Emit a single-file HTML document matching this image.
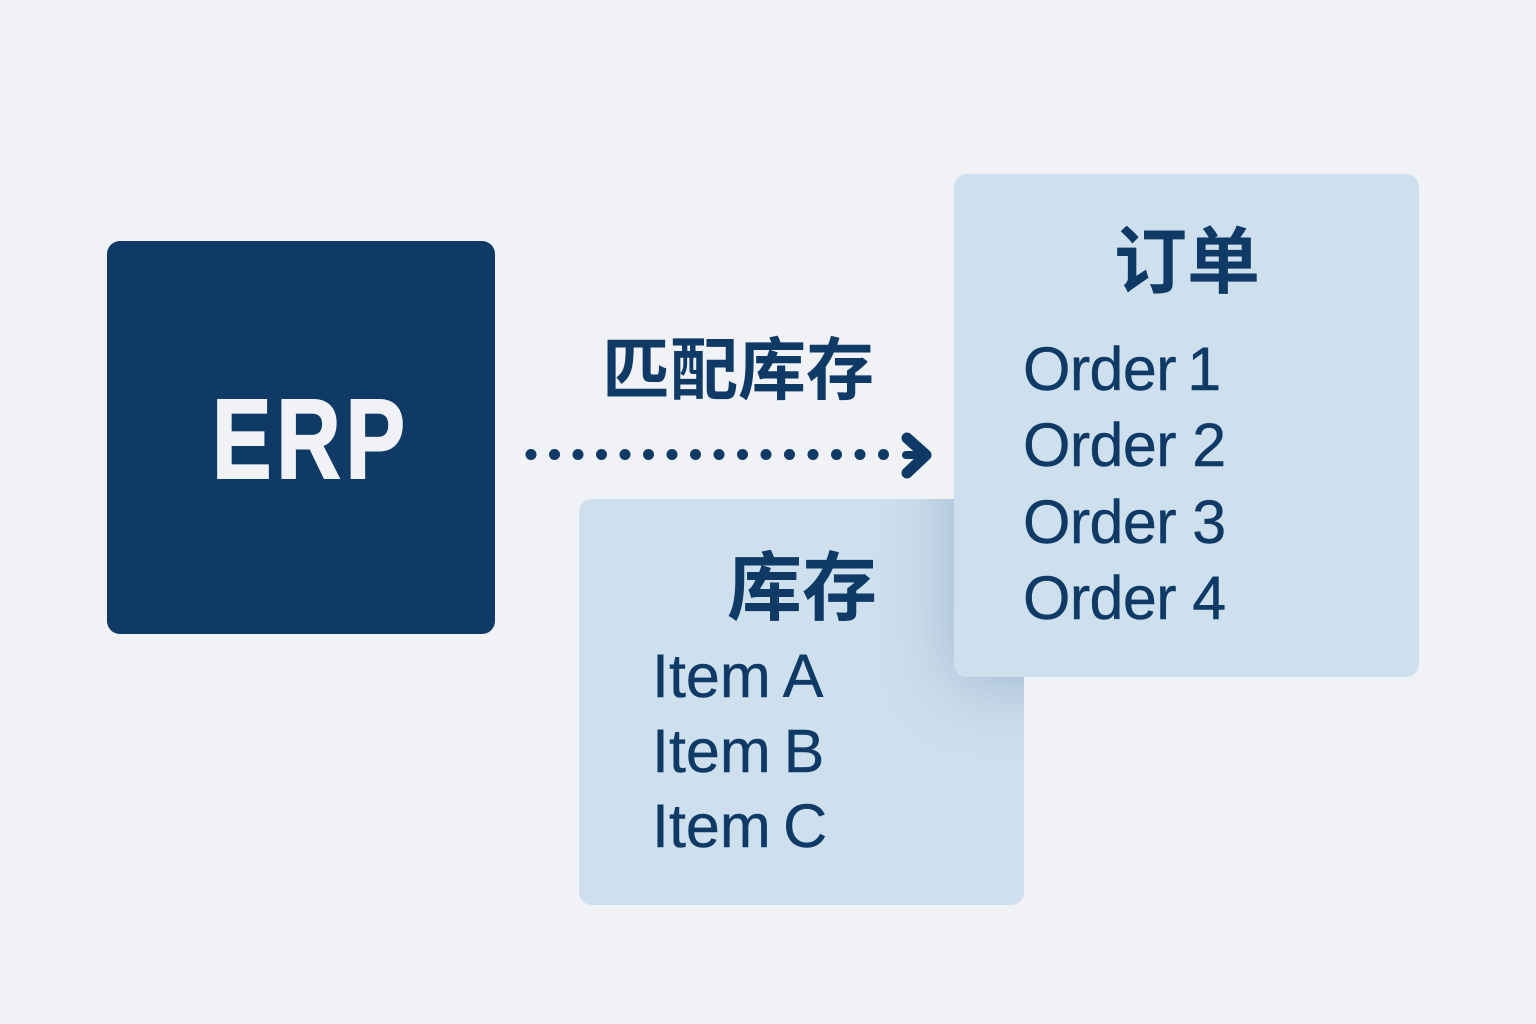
<!DOCTYPE html>
<html lang="zh">
<head>
<meta charset="utf-8">
<style>
html,body{margin:0;padding:0;width:1536px;height:1024px;overflow:hidden;background:#f0f2f5;}
body{position:relative;font-family:"Liberation Sans","Noto Sans CJK SC",sans-serif;color:#0f3a66;}
.box{position:absolute;box-sizing:border-box;}
.t{position:absolute;white-space:nowrap;line-height:1;}
.o{font-size:61px;letter-spacing:-.6px;left:1023px;-webkit-text-stroke:.4px #0f3a66;}
.i{font-size:61px;left:652px;-webkit-text-stroke:.4px #0f3a66;}
.c{font-weight:700;font-family:"Noto Sans CJK SC",sans-serif;}
</style>
</head>
<body>
<div class="box" style="left:107px;top:241px;width:388px;height:393px;background:#0f3a66;border-radius:13px;"></div>
<div class="t" style="left:212px;top:383px;font-size:113px;font-weight:700;letter-spacing:6px;color:#f0f2f5;-webkit-text-stroke:2px #f0f2f5;transform:scaleX(.79);transform-origin:left top;">ERP</div>

<div class="t c" style="left:602px;top:331px;font-size:68px;">匹配库存</div>

<svg style="position:absolute;left:0;top:0" width="1536" height="1024">
<g fill="#0f3a66">
<circle cx="531" cy="454.5" r="5.5"/><circle cx="554.5" cy="454.5" r="5.5"/><circle cx="578" cy="454.5" r="5.5"/><circle cx="601.5" cy="454.5" r="5.5"/><circle cx="625" cy="454.5" r="5.5"/><circle cx="648.5" cy="454.5" r="5.5"/><circle cx="672" cy="454.5" r="5.5"/><circle cx="695.5" cy="454.5" r="5.5"/><circle cx="719" cy="454.5" r="5.5"/><circle cx="742.5" cy="454.5" r="5.5"/><circle cx="766" cy="454.5" r="5.5"/><circle cx="789.5" cy="454.5" r="5.5"/><circle cx="813" cy="454.5" r="5.5"/><circle cx="836.5" cy="454.5" r="5.5"/><circle cx="860" cy="454.5" r="5.5"/><circle cx="883.5" cy="454.5" r="5.5"/>
</g>
<path d="M906 455 L924 455" fill="none" stroke="#0f3a66" stroke-width="8" stroke-linecap="round"/>
<path d="M907 438 L926 455 L907 473" fill="none" stroke="#0f3a66" stroke-width="11" stroke-linecap="round" stroke-linejoin="round"/>
</svg>

<div class="box" style="left:579px;top:499px;width:445px;height:406px;background:#cee0ee;border-radius:13px;overflow:hidden;">
  <div class="box" style="left:375px;top:-325px;width:465px;height:503px;border-radius:13px;box-shadow:-2px 6px 70px rgba(95,125,170,.42);"></div>
</div>
<div class="t c" style="left:727px;top:544px;font-size:75px;">库存</div>
<div class="t i" style="top:646px;word-spacing:-1.5px;">Item A</div>
<div class="t i" style="top:721px;word-spacing:-4px;">Item B</div>
<div class="t i" style="top:796px;word-spacing:-4.5px;">Item C</div>

<div class="box" style="left:954px;top:174px;width:465px;height:503px;background:#cee0ee;border-radius:13px;"></div>
<div class="t c" style="left:1114px;top:220px;font-size:73px;">订单</div>
<div class="t o" style="top:339px;word-spacing:-5px;">Order 1</div>
<div class="t o" style="top:415px;">Order 2</div>
<div class="t o" style="top:492px;">Order 3</div>
<div class="t o" style="top:568px;">Order 4</div>
</body>
</html>
